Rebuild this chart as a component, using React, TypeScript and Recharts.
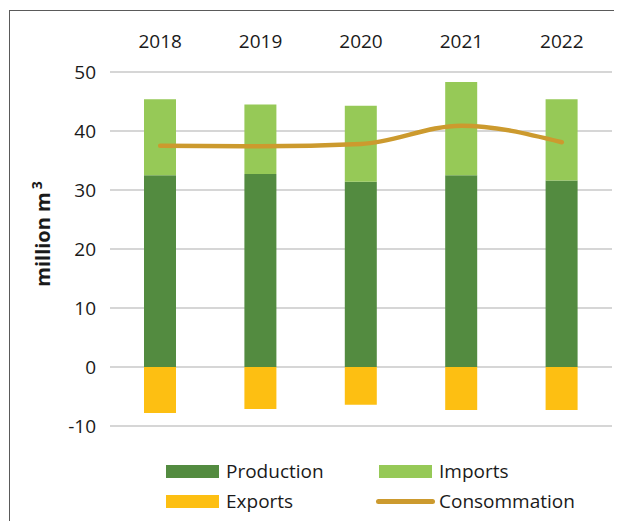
import React from 'react';
import { ComposedChart, Bar, Line, XAxis, YAxis, CartesianGrid } from 'recharts';

// values (million m3)
const years = ['2018', '2019', '2020', '2021', '2022'];
const production = [32.5, 32.7, 31.4, 32.5, 31.6];
const imports = [12.9, 11.8, 12.9, 15.8, 13.8];
const exportsVals = [-7.8, -7.1, -6.4, -7.3, -7.3];
const consommation = [37.5, 37.4, 37.8, 40.9, 38.1];
const yTicks = [-10, 0, 10, 20, 30, 40, 50];

const COLORS = {
  production: '#538B40',
  imports: '#96C957',
  exports: '#FDBF12',
  consommation: '#CC9A2E',
};

const FONT = '"Open Sans", sans-serif';

const data = years.map((year, i) => ({
  year,
  production: production[i],
  imports: imports[i],
  exports: exportsVals[i],
  consommation: consommation[i],
}));

const YLabel = () => (
  <text
    x={42}
    y={226}
    transform="rotate(-90 42 226)"
    textAnchor="middle"
    fontFamily={FONT}
    fontWeight="bold"
    fontSize={20}
    fill="#1a1a1a"
  >
    million m<tspan dx={3} dy={-8} fontSize={14}>3</tspan>
  </text>
);

const legendItems = [
  { name: 'Production', color: COLORS.production, kind: 'rect' },
  { name: 'Imports', color: COLORS.imports, kind: 'rect' },
  { name: 'Exports', color: COLORS.exports, kind: 'rect' },
  { name: 'Consommation', color: COLORS.consommation, kind: 'line' },
];

function ChartLegend() {
  return (
    <div
      style={{
        position: 'absolute',
        left: 158,
        top: 448,
        display: 'grid',
        gridTemplateColumns: '213px 220px',
        gridAutoRows: '30px',
        fontFamily: FONT,
        fontSize: 19,
        color: '#1a1a1a',
      }}
    >
      {legendItems.map((item) => (
        <div key={item.name} style={{ display: 'flex', alignItems: 'center' }}>
          {item.kind === 'rect' ? (
            <span style={{ width: 53, height: 13, background: item.color, marginRight: 7, flex: 'none' }} />
          ) : (
            <span
              style={{
                width: 59,
                height: 5,
                borderRadius: 3,
                background: item.color,
                marginLeft: -3,
                marginRight: 4,
                flex: 'none',
              }}
            />
          )}
          <span>{item.name}</span>
        </div>
      ))}
    </div>
  );
}

export default function App() {
  return (
    <div style={{ position: 'relative', width: 614, height: 513 }}>
      <div
        style={{
          position: 'absolute',
          left: 1,
          top: 2,
          width: 612,
          height: 511,
          borderLeft: '1px solid #5a5a5a',
          borderTop: '1px solid #5a5a5a',
          boxSizing: 'border-box',
        }}
      />
      <div style={{ position: 'absolute', left: 0, top: 0 }}>
        <ComposedChart
          width={614}
          height={513}
          data={data}
          stackOffset="sign"
          margin={{ top: 24, right: 10, bottom: 95, left: 22 }}
        >
          <CartesianGrid vertical={false} stroke="#C8C8C8" strokeWidth={1.5} />
          <XAxis
            dataKey="year"
            orientation="top"
            height={40}
            axisLine={false}
            tickLine={false}
            tickSize={0}
            tickMargin={24}
            tick={{ fontFamily: FONT, fontSize: 19, fill: '#1a1a1a' }}
          />
          <YAxis
            width={80}
            domain={[-10, 50]}
            ticks={yTicks}
            interval={0}
            axisLine={false}
            tickLine={false}
            tickSize={0}
            tickMargin={14}
            tick={{ fontFamily: FONT, fontSize: 19, fill: '#1a1a1a' }}
            label={{ content: () => <YLabel /> }}
          />
          <Bar dataKey="production" stackId="a" fill={COLORS.production} barSize={32} isAnimationActive={false} />
          <Bar dataKey="imports" stackId="a" fill={COLORS.imports} barSize={32} isAnimationActive={false} />
          <Bar dataKey="exports" stackId="a" fill={COLORS.exports} barSize={32} isAnimationActive={false} />
          <Line
            type="monotone"
            dataKey="consommation"
            stroke={COLORS.consommation}
            strokeWidth={4.5}
            strokeLinecap="round"
            dot={false}
            isAnimationActive={false}
          />
        </ComposedChart>
      </div>
      <ChartLegend />
    </div>
  );
}
